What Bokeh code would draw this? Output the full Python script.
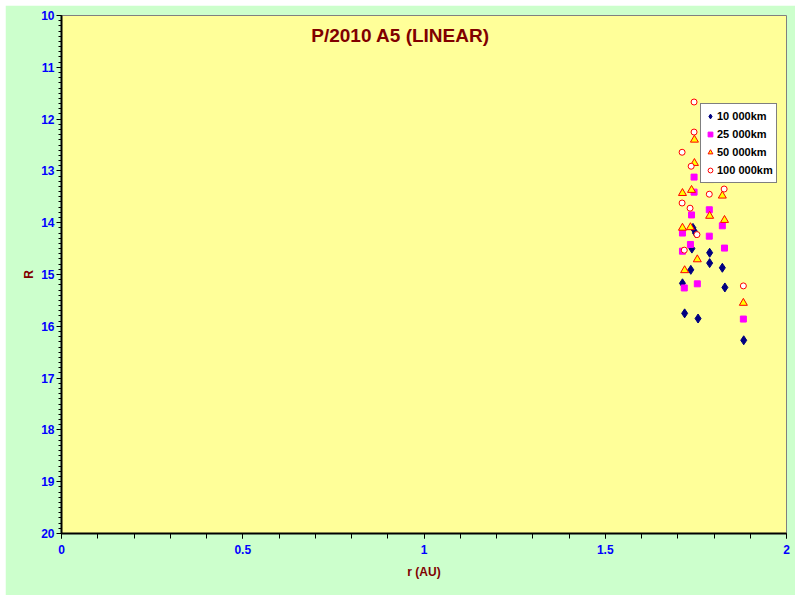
from bokeh.plotting import figure
from bokeh.models import Range1d, Legend, LegendItem, Label, FixedTicker
from bokeh.embed import file_html
from bokeh.resources import INLINE

# Data (r in AU, R magnitude)
r_10k = [1.742, 1.749, 1.739, 1.788, 1.788, 1.736, 1.823, 1.713, 1.830, 1.719, 1.756, 1.882]
R_10k = [14.10, 14.20, 14.50, 14.58, 14.78, 14.91, 14.87, 15.17, 15.25, 15.75, 15.85, 16.27]

r_25k = [1.745, 1.745, 1.787, 1.738, 1.823, 1.713, 1.787, 1.735, 1.713, 1.829, 1.754, 1.718, 1.881]
R_25k = [13.12, 13.41, 13.75, 13.85, 14.06, 14.20, 14.26, 14.42, 14.55, 14.49, 15.18, 15.26, 15.86]

r_50k = [1.746, 1.746, 1.788, 1.713, 1.738, 1.823, 1.788, 1.829, 1.713, 1.735, 1.754, 1.719, 1.881]
R_50k = [12.40, 12.85, 13.18, 13.43, 13.37, 13.48, 13.87, 13.95, 14.10, 14.09, 14.71, 14.92, 15.55]

r_100k = [1.745, 1.745, 1.712, 1.737, 1.828, 1.787, 1.712, 1.734, 1.753, 1.718, 1.881]
R_100k = [11.67, 12.25, 12.64, 12.91, 13.35, 13.45, 13.62, 13.72, 14.23, 14.53, 15.22]

series_labels = ["10 000km", "25 000km", "50 000km", "100 000km"]
x_ticks = [0, 0.5, 1, 1.5, 2]
y_ticks = list(range(10, 21))

FONT = "Liberation Sans"

p = figure(width=790, height=590, output_backend="svg", toolbar_location=None,
           x_range=Range1d(0, 2), y_range=Range1d(20, 10),
           min_border_left=56, min_border_right=9, min_border_top=10, min_border_bottom=62)
p.margin = (5, 5, 5, 5)

p.background_fill_color = "#FFFF99"
p.border_fill_color = "#CCFFCC"
p.outline_line_color = "#808080"
p.outline_line_width = 1
p.xgrid.visible = False
p.ygrid.visible = False

# axes
for ax in (p.xaxis[0], p.yaxis[0]):
    ax.axis_line_color = "black"
    ax.axis_line_width = 2
    ax.major_tick_line_color = "black"
    ax.minor_tick_line_color = "black"
    ax.major_tick_in = 0
    ax.minor_tick_in = 0
    ax.major_label_text_color = "#0000FF"
    ax.major_label_text_font = FONT
    ax.major_label_text_font_style = "bold"
    ax.major_label_text_font_size = "12px"
    ax.axis_label_text_color = "#800000"
    ax.axis_label_text_font = FONT
    ax.axis_label_text_font_style = "bold"
    ax.axis_label_text_font_size = "12px"

p.xaxis.ticker = FixedTicker(ticks=x_ticks, minor_ticks=[i / 10 for i in range(0, 21)])
p.yaxis.ticker = FixedTicker(ticks=y_ticks, minor_ticks=[10 + i / 10 for i in range(0, 101)])
p.xaxis.major_tick_out = 5
p.xaxis.minor_tick_out = 5
p.yaxis.major_tick_out = 5
p.yaxis.minor_tick_out = 3
p.xaxis.major_label_standoff = 6
p.yaxis.major_label_standoff = 2
p.xaxis.axis_label = "r (AU)"
p.yaxis.axis_label = "R"
p.xaxis.axis_label_standoff = 8
p.yaxis.axis_label_standoff = 2

r1 = p.scatter(r_10k, R_10k, marker="diamond", size=9, fill_color="#000080", line_color="#000080")
r2 = p.scatter(r_25k, R_25k, marker="square", size=6, fill_color="#FF00FF", line_color="#FF00FF")
r3 = p.scatter(r_50k, R_50k, marker="triangle", size=8, fill_color="#FFFF00", line_color="#FF0000", line_width=1)
r4 = p.scatter(r_100k, R_100k, marker="circle", size=6, fill_color="white", line_color="#FF0000", line_width=1)

legend = Legend(items=[LegendItem(label=series_labels[0], renderers=[r1]),
                       LegendItem(label=series_labels[1], renderers=[r2]),
                       LegendItem(label=series_labels[2], renderers=[r3]),
                       LegendItem(label=series_labels[3], renderers=[r4])],
                location=(639, 350))
legend.border_line_color = "black"
legend.border_line_width = 1
legend.background_fill_color = "white"
legend.background_fill_alpha = 1
legend.label_text_font = FONT
legend.label_text_font_style = "bold"
legend.label_text_font_size = "11px"
legend.label_text_color = "black"
legend.glyph_width = 12
legend.glyph_height = 18
legend.label_height = 18
legend.label_standoff = 1
legend.spacing = 0
legend.padding = 3
legend.margin = 0
p.add_layout(legend)

title = Label(x=339, y=498, x_units="screen", y_units="screen", text="P/2010 A5 (LINEAR)",
              text_font=FONT, text_font_style="bold", text_font_size="19px",
              text_color="#800000", text_align="center", text_baseline="middle")
p.add_layout(title)

open("out.html", "w").write(file_html(p, INLINE))
